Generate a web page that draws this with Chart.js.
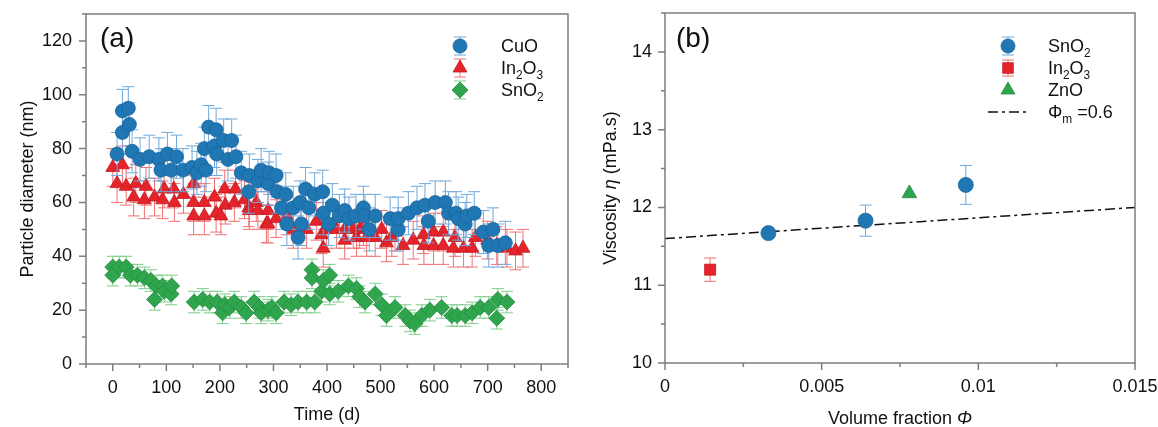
<!DOCTYPE html>
<html>
<head>
<meta charset="utf-8">
<script src="https://cdn.jsdelivr.net/npm/chart.js@4.4.1/dist/chart.umd.min.js"></script>
<style>
  html, body { margin: 0; padding: 0; background: #fff; }
  #wrap { position: relative; width: 1158px; height: 427px; overflow: hidden; }
  canvas { position: absolute; top: 0; }
  #chartA { left: 0; }
  #chartB { left: 580px; }
</style>
</head>
<body>
<div id="wrap">
  <canvas id="chartA" width="580" height="427"></canvas>
  <canvas id="chartB" width="578" height="427"></canvas>
</div>
<script>
// ---- (a) particle diameter vs time ----
const cuoDays = [8,18,18,29,31,36,51,68,86,90,102,109,119,131,148,157,165,171,174,179,190,193,194,207,215,222,230,240,254,255,271,277,290,292,305,307,315,323,325,337,346,350,352,360,366,377,392,393,403,410,423,433,441,454,468,471,479,490,518,533,533,552,568,583,589,602,621,627,641,645,658,661,675,692,702,710,719,733];
const cuoSize = [78,86,94,95,89,79,76,77,76,72,78,72,77,72,73,71,74,80,72,88,81,87,78,83,76,83,77,71,64,70,68,72,67,71,70,64,58,63,52,58,47,60,52,65,58,63,64,56,52,59,55,57,54,55,58,55,50,55,54,50,54,56,58,59,53,60,60,56,56,54,52,55,56,49,44,50,44,45];
const cuoErr = 8;

const in2o3Days = [0,8,18,25,39,43,59,62,78,93,96,114,115,132,151,151,151,171,171,190,193,202,209,210,227,229,246,254,255,268,271,287,290,290,305,325,337,362,380,390,393,399,418,433,433,449,455,461,468,474,490,502,511,521,527,542,561,580,581,599,599,617,617,636,639,655,671,677,700,717,736,752,766];
const in2o3Size = [73,67,74,66,62,67,61,66,62,61,65,65,60,63,67,60,55,60,55,62,56,55,65,59,60,65,61,58,57,60,57,52,57,52,54,55,50,50,53,48,43,50,50,46,50,50,47,50,51,47,47,50,45,47,49,44,46,48,44,49,44,49,44,43,47,43,43,47,46,44,43,42,43];
const in2o3Err = 7;

const sno2Days = [0,0,12,25,33,46,59,71,78,81,93,96,109,110,152,168,181,195,205,209,218,227,240,249,264,274,277,290,297,305,320,333,346,362,372,372,377,390,393,405,405,421,440,455,461,471,490,502,511,527,546,555,564,577,592,614,633,643,658,671,686,702,717,719,736];
const sno2Size = [36,33,36,36,33,33,32,31,24,29,29,27,26,29,23,24,23,23,19,22,21,23,21,19,23,21,19,20,21,19,23,22,23,23,35,32,23,27,31,33,26,27,29,28,25,23,26,22,18,21,18,16,15,18,20,21,18,18,18,19,21,21,17,24,23];
const sno2Err = 4;

// ---- (b) viscosity vs volume fraction ----
const bSnO2Phi = [0.0033, 0.0064, 0.0096];
const bSnO2Eta = [11.67, 11.83, 12.29];
const bSnO2Err = [0.03, 0.2, 0.25];
const bIn2O3Phi = [0.00144];
const bIn2O3Eta = [11.2];
const bIn2O3Err = [0.15];
const bZnOPhi = [0.0078];
const bZnOEta = [12.18];
const fitPhi = [0, 0.015];
const fitEta = [11.6, 12.0];
const bXLabels = ['0', '0.005', '0.01', '0.015'];

const FONT = "'Liberation Sans', Arial, sans-serif";
const AXIS = '#7d7d7d';
const BLUE = '#1f77b4', BLUE_E = '#6fa8dc';
const RED = '#e4232a', RED_E = '#f27070';
const GREEN = '#2fa64d', GREEN_E = '#7dcd8a';

const pts = (xs, ys) => xs.map((x, i) => ({ x: x, y: ys[i] }));

function marker(ctx, style, x, y, r, fill, stroke) {
  ctx.save();
  ctx.fillStyle = fill;
  ctx.strokeStyle = stroke;
  ctx.lineWidth = 0.8;
  ctx.beginPath();
  if (style === 'circle') {
    ctx.arc(x, y, r, 0, 2 * Math.PI);
  } else if (style === 'triangle') {
    for (let k = 0; k < 3; k++) {
      const a = k * 2 * Math.PI / 3;
      ctx.lineTo(x + Math.sin(a) * r, y - Math.cos(a) * r);
    }
  } else if (style === 'rectRot') {
    ctx.moveTo(x - r, y); ctx.lineTo(x, y - r); ctx.lineTo(x + r, y); ctx.lineTo(x, y + r);
  } else {
    const s = r * Math.SQRT1_2;
    ctx.rect(x - s, y - s, 2 * s, 2 * s);
  }
  ctx.closePath();
  ctx.fill();
  ctx.stroke();
  ctx.restore();
}

function bar(ctx, x, top, bot, cap, color) {
  ctx.save();
  ctx.strokeStyle = color;
  ctx.lineWidth = 1;
  ctx.beginPath();
  ctx.moveTo(x, top); ctx.lineTo(x, bot);
  ctx.moveTo(x - cap, top); ctx.lineTo(x + cap, top);
  ctx.moveTo(x - cap, bot); ctx.lineTo(x + cap, bot);
  ctx.stroke();
  ctx.restore();
}

// text made of parts: [string, ''|'sub'|'it']
function rich(ctx, parts, x, y, size, align) {
  const fontOf = p => (p[1] === 'it' ? 'italic ' : '') + (p[1] === 'sub' ? size * 0.66 : size) + 'px ' + FONT;
  let total = 0;
  parts.forEach(p => { ctx.font = fontOf(p); total += ctx.measureText(p[0]).width; });
  let cx = align === 'center' ? x - total / 2 : x;
  ctx.textAlign = 'left';
  ctx.textBaseline = 'alphabetic';
  ctx.fillStyle = '#111';
  const base = y + size * 0.36;
  parts.forEach(p => {
    ctx.font = fontOf(p);
    ctx.fillText(p[0], cx, base + (p[1] === 'sub' ? size * 0.24 : 0));
    cx += ctx.measureText(p[0]).width;
  });
}

// error bars drawn just before each dataset's markers
const errorBars = {
  id: 'errorBars',
  beforeDatasetDraw(chart, args) {
    const ds = chart.data.datasets[args.index];
    if (!ds.err) return;
    const xs = chart.scales.x, ys = chart.scales.y, ctx = chart.ctx;
    const a = chart.chartArea;
    ctx.save();
    ctx.beginPath();
    ctx.rect(a.left, a.top, a.right - a.left, a.bottom - a.top);
    ctx.clip();
    ds.data.forEach((p, i) => {
      const e = Array.isArray(ds.err) ? ds.err[i] : ds.err;
      if (!e) return;
      bar(ctx, xs.getPixelForValue(p.x), ys.getPixelForValue(p.y + e), ys.getPixelForValue(p.y - e), 6, ds.errColor);
    });
    ctx.restore();
  }
};

// box frame and outward tick marks (major longer than minor)
const frame = {
  id: 'frame',
  afterDraw(chart) {
    const ctx = chart.ctx, a = chart.chartArea;
    ctx.save();
    ctx.strokeStyle = AXIS;
    ctx.lineWidth = 1.5;
    ctx.strokeRect(a.left, a.top, a.right - a.left, a.bottom - a.top);
    ctx.beginPath();
    chart.scales.x.ticks.forEach(t => {
      const px = chart.scales.x.getPixelForValue(t.value);
      ctx.moveTo(px, a.bottom);
      ctx.lineTo(px, a.bottom + (t.label !== '' ? 7 : 4));
    });
    chart.scales.y.ticks.forEach(t => {
      const py = chart.scales.y.getPixelForValue(t.value);
      ctx.moveTo(a.left, py);
      ctx.lineTo(a.left - (t.label !== '' ? 7 : 4), py);
    });
    ctx.stroke();
    ctx.restore();
  }
};

function axisOpts(min, max, step, pad, cb) {
  return {
    type: 'linear', min: min, max: max,
    grid: { display: false, drawTicks: false },
    border: { display: false },
    ticks: { stepSize: step, padding: pad, autoSkip: false, maxRotation: 0, color: '#111',
             font: { family: FONT, size: 18 }, callback: cb }
  };
}

// ---------- panel (a) ----------
const textsA = {
  id: 'textsA',
  afterDraw(chart) {
    const ctx = chart.ctx, a = chart.chartArea;
    ctx.save();
    ctx.font = '28px ' + FONT;
    ctx.fillStyle = '#111';
    ctx.textAlign = 'left';
    ctx.textBaseline = 'alphabetic';
    ctx.fillText('(a)', 100, 47);
    rich(ctx, [['Time (d)', '']], (a.left + a.right) / 2, 414, 18, 'center');
    ctx.save();
    ctx.translate(27, (a.top + a.bottom) / 2);
    ctx.rotate(-Math.PI / 2);
    rich(ctx, [['Particle diameter (nm)', '']], 0, 0, 18, 'center');
    ctx.restore();
    // legend
    const items = [
      { style: 'circle', r: 7, fill: BLUE, stroke: '#1a6399', ec: BLUE_E, text: [['CuO', '']] },
      { style: 'triangle', r: 8, fill: RED, stroke: '#c21b21', ec: RED_E, text: [['In', ''], ['2', 'sub'], ['O', ''], ['3', 'sub']] },
      { style: 'rectRot', r: 8, fill: GREEN, stroke: '#248a3d', ec: GREEN_E, text: [['SnO', ''], ['2', 'sub']] }
    ];
    items.forEach((it, k) => {
      const y = 46 + k * 22;
      bar(ctx, 460, y - 9, y + 9, 6, it.ec);
      marker(ctx, it.style, 460, y, it.r, it.fill, it.stroke);
      rich(ctx, it.text, 501, y, 18, 'left');
    });
    ctx.restore();
  }
};

const optsA = axisOpts(-50, 850, 50, 13, v => (v % 100 === 0 ? String(v) : ''));
optsA.afterFit = s => { s.height = 63; s.paddingLeft = 0; s.paddingRight = 0; };
const optsAy = axisOpts(0, 130, 10, 14, v => (v % 20 === 0 ? String(v) : ''));
optsAy.afterFit = s => { s.width = 86; s.paddingTop = 0; s.paddingBottom = 0; };

new Chart(document.getElementById('chartA'), {
  type: 'scatter',
  data: {
    datasets: [
      { label: 'CuO', data: pts(cuoDays, cuoSize), err: cuoErr, errColor: BLUE_E,
        pointStyle: 'circle', pointRadius: 7, backgroundColor: BLUE, borderColor: '#1a6399', borderWidth: 0.8 },
      { label: 'In2O3', data: pts(in2o3Days, in2o3Size), err: in2o3Err, errColor: RED_E,
        pointStyle: 'triangle', pointRadius: 8, backgroundColor: RED, borderColor: '#c21b21', borderWidth: 0.8 },
      { label: 'SnO2', data: pts(sno2Days, sno2Size), err: sno2Err, errColor: GREEN_E,
        pointStyle: 'rectRot', pointRadius: 8, backgroundColor: GREEN, borderColor: '#248a3d', borderWidth: 0.8 }
    ]
  },
  options: {
    responsive: false,
    animation: false,
    events: [],
    layout: { padding: { top: 14, right: 12, left: 0, bottom: 0 } },
    plugins: { legend: { display: false }, tooltip: { enabled: false } },
    scales: { x: optsA, y: optsAy }
  },
  plugins: [errorBars, frame, textsA]
});

// ---------- panel (b) ----------
const textsB = {
  id: 'textsB',
  afterDraw(chart) {
    const ctx = chart.ctx, a = chart.chartArea;
    ctx.save();
    ctx.font = '28px ' + FONT;
    ctx.fillStyle = '#111';
    ctx.textAlign = 'left';
    ctx.textBaseline = 'alphabetic';
    ctx.fillText('(b)', 96, 47);
    rich(ctx, [['Volume fraction ', ''], ['\u03A6', 'it']], (a.left + a.right) / 2, 418, 18, 'center');
    ctx.save();
    ctx.translate(30, (a.top + a.bottom) / 2);
    ctx.rotate(-Math.PI / 2);
    rich(ctx, [['Viscosity ', ''], ['\u03B7', 'it'], [' (mPa.s)', '']], 0, 0, 18, 'center');
    ctx.restore();
    // legend
    const mx = 428, tx = 468;
    bar(ctx, mx, 46 - 9, 46 + 9, 6, BLUE_E);
    marker(ctx, 'circle', mx, 46, 7, BLUE, '#1a6399');
    rich(ctx, [['SnO', ''], ['2', 'sub']], tx, 46, 18, 'left');
    bar(ctx, mx, 68 - 8, 68 + 8, 6, RED_E);
    marker(ctx, 'rect', mx, 68, 7.5, RED, '#c21b21');
    rich(ctx, [['In', ''], ['2', 'sub'], ['O', ''], ['3', 'sub']], tx, 68, 18, 'left');
    marker(ctx, 'triangle', mx, 90, 8, GREEN, '#248a3d');
    rich(ctx, [['ZnO', '']], tx, 90, 18, 'left');
    ctx.save();
    ctx.strokeStyle = '#111';
    ctx.lineWidth = 1.5;
    ctx.setLineDash([10, 4, 3, 4]);
    ctx.beginPath();
    ctx.moveTo(408, 112); ctx.lineTo(446, 112);
    ctx.stroke();
    ctx.restore();
    rich(ctx, [['\u03A6', ''], ['m', 'sub'], [' =0.6', '']], tx, 112, 18, 'left');
    ctx.restore();
  }
};

const optsB = axisOpts(0, 0.015, 0.0025, 13, (v, i) => (i % 2 === 0 ? bXLabels[i / 2] : ''));
optsB.afterFit = s => { s.height = 64; s.paddingLeft = 0; s.paddingRight = 0; };
const optsBy = axisOpts(10, 14.5, 0.5, 13, v => (Number.isInteger(v) ? String(v) : ''));
optsBy.afterFit = s => { s.width = 85; s.paddingTop = 0; s.paddingBottom = 0; };

new Chart(document.getElementById('chartB'), {
  type: 'scatter',
  data: {
    datasets: [
      { label: 'SnO2', data: pts(bSnO2Phi, bSnO2Eta), err: bSnO2Err, errColor: BLUE_E,
        pointStyle: 'circle', pointRadius: 7.5, backgroundColor: BLUE, borderColor: '#1a6399', borderWidth: 0.8 },
      { label: 'In2O3', data: pts(bIn2O3Phi, bIn2O3Eta), err: bIn2O3Err, errColor: RED_E,
        pointStyle: 'rect', pointRadius: 7.8, backgroundColor: RED, borderColor: '#c21b21', borderWidth: 0.8 },
      { label: 'ZnO', data: pts(bZnOPhi, bZnOEta),
        pointStyle: 'triangle', pointRadius: 8.5, backgroundColor: GREEN, borderColor: '#248a3d', borderWidth: 0.8 },
      { label: 'fit', data: pts(fitPhi, fitEta), showLine: true, pointRadius: 0,
        borderColor: '#111', borderWidth: 1.5, borderDash: [10, 4, 3, 4] }
    ]
  },
  options: {
    responsive: false,
    animation: false,
    events: [],
    layout: { padding: { top: 13, right: 23, left: 0, bottom: 0 } },
    plugins: { legend: { display: false }, tooltip: { enabled: false } },
    scales: { x: optsB, y: optsBy }
  },
  plugins: [errorBars, frame, textsB]
});
</script>
</body>
</html>
